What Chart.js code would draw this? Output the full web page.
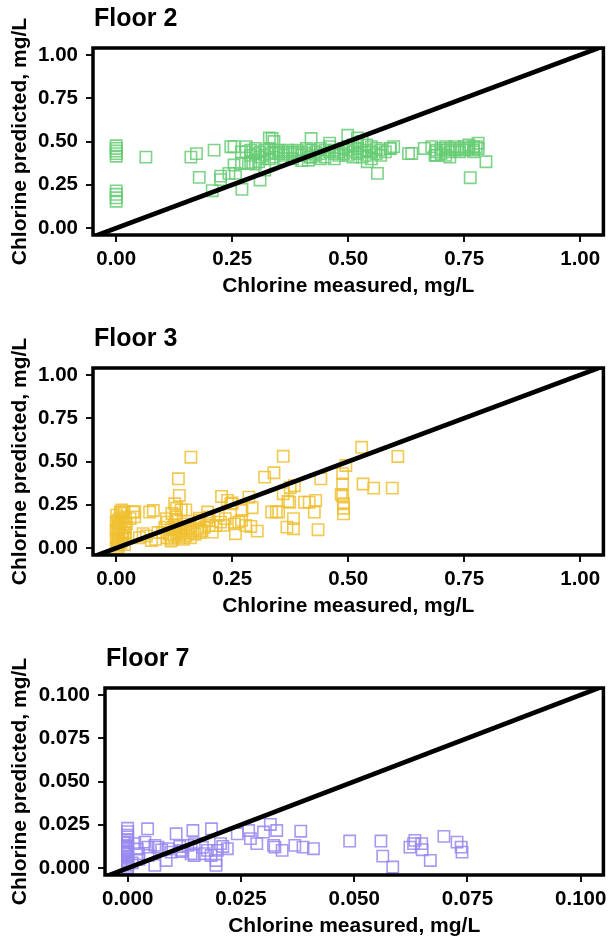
<!DOCTYPE html>
<html>
<head>
<meta charset="utf-8">
<title>Chlorine predicted vs measured</title>
<script src="https://cdn.jsdelivr.net/npm/chart.js@4.4.1/dist/chart.umd.min.js"></script>
<style>
  body { margin: 0; background: #fff; }
  canvas { position: absolute; left: 0; }
</style>
</head>
<body>
<canvas id="floor2" width="613" height="301" style="top:0px"></canvas>
<canvas id="floor3" width="613" height="301" style="top:320px"></canvas>
<canvas id="floor7" width="613" height="301" style="top:640px"></canvas>
<script>
// measured vs predicted chlorine, mg/L
const floor2Measured = [
  0, 0, 0, 0, 0, 0, 0, 0, 0, 0.064,
  0.161, 0.173, 0.211, 0.179, 0.207, 0.225, 0.225, 0.243, 0.247, 0.254,
  0.254, 0.257, 0.271, 0.27, 0.285, 0.31, 0.32, 0.307, 0.336, 0.42,
  0.499, 0.414, 0.418, 0.541, 0.563, 0.591, 0.598, 0.637, 0.664, 0.797,
  0.763, 0.687, 0.719, 0.776, 0.78, 0.28, 0.29, 0.30, 0.30, 0.31,
  0.32, 0.32, 0.33, 0.33, 0.34, 0.34, 0.35, 0.35, 0.36, 0.36,
  0.37, 0.37, 0.38, 0.38, 0.39, 0.39, 0.40, 0.40, 0.41, 0.41,
  0.42, 0.42, 0.43, 0.43, 0.44, 0.44, 0.45, 0.45, 0.46, 0.46,
  0.47, 0.47, 0.48, 0.48, 0.49, 0.49, 0.50, 0.50, 0.50, 0.51,
  0.51, 0.52, 0.52, 0.53, 0.53, 0.53, 0.54, 0.54, 0.54, 0.55,
  0.55, 0.56, 0.56, 0.57, 0.57, 0.58, 0.59, 0.55, 0.52, 0.51,
  0.47, 0.44, 0.40, 0.36, 0.33, 0.31, 0.29, 0.27, 0.28, 0.29,
  0.30, 0.33, 0.34, 0.52, 0.46, 0.68, 0.69, 0.69, 0.70, 0.70,
  0.71, 0.71, 0.72, 0.72, 0.73, 0.73, 0.74, 0.74, 0.75, 0.75,
  0.76, 0.76, 0.77, 0.77, 0.78, 0.71, 0.69, 0.77, 0.63
];
const floor2Predicted = [
  0.475, 0.46, 0.445, 0.43, 0.415, 0.215, 0.195, 0.175, 0.155, 0.41,
  0.41, 0.43, 0.45, 0.293, 0.216, 0.30, 0.28, 0.316, 0.47, 0.47,
  0.364, 0.316, 0.224, 0.373, 0.373, 0.278, 0.335, 0.383, 0.517, 0.517,
  0.536, 0.392, 0.41, 0.383, 0.316, 0.46, 0.47, 0.431, 0.46, 0.383,
  0.291, 0.421, 0.41, 0.47, 0.49, 0.44, 0.45, 0.43, 0.46, 0.44,
  0.42, 0.45, 0.46, 0.43, 0.44, 0.41, 0.45, 0.43, 0.44, 0.42,
  0.45, 0.43, 0.44, 0.40, 0.45, 0.43, 0.44, 0.42, 0.46, 0.43,
  0.45, 0.41, 0.44, 0.42, 0.46, 0.43, 0.45, 0.41, 0.44, 0.47,
  0.43, 0.45, 0.44, 0.42, 0.46, 0.43, 0.45, 0.47, 0.42, 0.44,
  0.48, 0.43, 0.46, 0.44, 0.50, 0.41, 0.45, 0.42, 0.48, 0.44,
  0.40, 0.46, 0.43, 0.45, 0.42, 0.44, 0.46, 0.47, 0.49, 0.41,
  0.40, 0.40, 0.39, 0.40, 0.40, 0.41, 0.42, 0.44, 0.47, 0.38,
  0.37, 0.52, 0.50, 0.52, 0.49, 0.47, 0.45, 0.44, 0.46, 0.43,
  0.45, 0.47, 0.44, 0.46, 0.45, 0.47, 0.46, 0.44, 0.47, 0.45,
  0.46, 0.48, 0.47, 0.45, 0.46, 0.42, 0.42, 0.44, 0.43
];

const floor3Measured = [
  0, 0.002, 0.004, 0.006, 0.003, 0.005, 0.008, 0.01, 0.012, 0.015,
  0.012, 0.018, 0.015, 0.02, 0.01, 0.005, 0.017, 0.02, 0.022, 0.008,
  0, 0, 0, 0.001, 0.012, 0.018, 0.006, 0.014, 0.004, 0.02,
  0.04, 0.04, 0.03, 0.009, 0.037, 0.058, 0.076, 0.072, 0.08, 0.09,
  0.05, 0.065, 0.085, 0.10, 0.105, 0.11, 0.11, 0.115, 0.12, 0.12,
  0.125, 0.125, 0.13, 0.13, 0.135, 0.135, 0.14, 0.14, 0.145, 0.145,
  0.15, 0.15, 0.155, 0.16, 0.16, 0.165, 0.17, 0.118, 0.128, 0.108,
  0.175, 0.18, 0.19, 0.185, 0.2, 0.195, 0.161, 0.134, 0.136, 0.126,
  0.13, 0.14, 0.12, 0.15, 0.179, 0.179, 0.2, 0.197, 0.207, 0.227,
  0.24, 0.247, 0.257, 0.232, 0.264, 0.279, 0.29, 0.304, 0.293, 0.271,
  0.286, 0.225, 0.235, 0.215, 0.25, 0.255, 0.22, 0.27, 0.32, 0.34,
  0.36, 0.36, 0.374, 0.382, 0.368, 0.382, 0.335, 0.35, 0.384, 0.43,
  0.416, 0.427, 0.406, 0.435, 0.441, 0.345, 0.37, 0.375, 0.488, 0.488,
  0.488, 0.49, 0.49, 0.495, 0.485, 0.529, 0.607, 0.532, 0.555, 0.595,
  0.49
];
const floor3Predicted = [
  0, 0.02, 0.05, 0.08, 0.11, 0.14, 0.17, 0.20, 0.22, 0.18,
  0.15, 0.12, 0.09, 0.06, 0.03, 0.01, 0.21, 0.17, 0.14, 0.12,
  0.06, 0.1, 0.15, 0.19, 0.07, 0.02, 0.04, 0.05, 0.16, 0.09,
  0.21, 0.18, 0.17, 0.208, 0.208, 0.083, 0.044, 0.208, 0.217, 0.09,
  0.06, 0.07, 0.05, 0.09, 0.12, 0.06, 0.15, 0.08, 0.05, 0.11,
  0.13, 0.07, 0.09, 0.16, 0.06, 0.12, 0.08, 0.10, 0.05, 0.14,
  0.07, 0.11, 0.09, 0.06, 0.12, 0.10, 0.08, 0.04, 0.18, 0.17,
  0.11, 0.09, 0.12, 0.10, 0.13, 0.16, 0.525, 0.40, 0.304, 0.256,
  0.23, 0.22, 0.20, 0.22, 0.172, 0.16, 0.18, 0.208, 0.092, 0.298,
  0.275, 0.256, 0.083, 0.131, 0.15, 0.131, 0.125, 0.098, 0.233, 0.217,
  0.294, 0.15, 0.17, 0.13, 0.26, 0.14, 0.19, 0.16, 0.41, 0.435,
  0.53, 0.314, 0.265, 0.17, 0.121, 0.112, 0.208, 0.208, 0.36, 0.275,
  0.265, 0.208, 0.265, 0.106, 0.40, 0.21, 0.27, 0.35, 0.43, 0.37,
  0.30, 0.256, 0.198, 0.477, 0.31, 0.582, 0.529, 0.37, 0.346, 0.346,
  0.23
];

const floor7Measured = [
  0, 0, 0, 0, 0, 0, 0, 0, 0, 0,
  0, 0, 0, 0, 0, 0, 0, 0, 0, 0,
  0.0044, 0.0107, 0.0144, 0.0185, 0.0315, 0.0329, 0.030, 0.0382, 0.0242, 0.0267,
  0.0271, 0.0285, 0.0322, 0.0325, 0.0341, 0.0369, 0.0387, 0.041, 0.0038, 0.0045,
  0.006, 0.0067, 0.0089, 0.0096, 0.0118, 0.0133, 0.014, 0.0147, 0.0169, 0.0176,
  0.0198, 0.0205, 0.022, 0.0184, 0.0195, 0.0195, 0.006, 0.0085, 0.0024, 0.0016,
  0.0147, 0.0045, 0.0021, 0.0025, 0.001, 0.0075, 0.0115, 0.021, 0.0165, 0.012,
  0.049, 0.0559, 0.0563, 0.0585, 0.0623, 0.0634, 0.0631, 0.065, 0.0649, 0.0668,
  0.0698, 0.0727, 0.0736, 0.0738
];
const floor7Predicted = [
  0.023, 0.021, 0.019, 0.018, 0.016, 0.015, 0.013, 0.012, 0.011, 0.010,
  0.009, 0.008, 0.007, 0.006, 0.005, 0.004, 0.003, 0.002, 0.001, 0,
  0.0227, 0.0198, 0.0217, 0.0227, 0.0252, 0.0217, 0.0208, 0.0213, 0.0198, 0.0217,
  0.017, 0.0141, 0.0131, 0.0121, 0.0102, 0.0131, 0.0121, 0.0112, 0.015, 0.0121,
  0.0131, 0.0121, 0.0112, 0.0092, 0.0102, 0.0131, 0.0083, 0.0073, 0.0083, 0.0102,
  0.0102, 0.0141, 0.0112, 0.0073, 0.0016, 0.0044, 0.0016, 0.0044, 0.0083, 0.0141,
  0.0141, 0.0073, 0.011, 0.005, 0.003, 0.0105, 0.0125, 0.0125, 0.012, 0.0095,
  0.0156, 0.0156, 0.0069, 0.0006, 0.0121, 0.016, 0.0141, 0.0106, 0.0141, 0.0044,
  0.0183, 0.015, 0.0121, 0.0092
];

// tick positions / labels
const ticksWide = [0, 0.25, 0.5, 0.75, 1];
const labelsWide = ['0.00', '0.25', '0.50', '0.75', '1.00'];
const ticksLow = [0, 0.025, 0.05, 0.075, 0.1];
const labelsLow = ['0.000', '0.025', '0.050', '0.075', '0.100'];

// axis limits [min, max]
const xLimWide = [-0.05, 1.05];
const yLimWide = [-0.04, 1.04];
const xLimLow = [-0.005, 0.105];
const yLimLow = [-0.004, 0.104];

Chart.defaults.font.family = "'Liberation Sans', Arial, sans-serif";
Chart.defaults.font.size = 20;
Chart.defaults.font.weight = 'bold';
Chart.defaults.color = '#000';

// panel heading + frame around the plot area
const panelDecor = {
  id: 'panelDecor',
  afterDraw(chart, args, opts) {
    const { ctx, chartArea: a } = chart;
    ctx.save();
    ctx.strokeStyle = '#000';
    ctx.lineWidth = 3.5;
    ctx.strokeRect(a.left, a.top, a.right - a.left, a.bottom - a.top);
    ctx.font = "bold 25px 'Liberation Sans', Arial, sans-serif";
    ctx.fillStyle = '#000';
    ctx.textBaseline = 'alphabetic';
    ctx.fillText(opts.text, a.left + 1, 26);
    ctx.restore();
  }
};

function makePanel(id, title, measured, predicted, color, xLim, yLim, ticks, labels, yWidth) {
  const points = measured.map((x, i) => ({ x: x, y: predicted[i] }));
  const lo = Math.min(xLim[0], yLim[0]);
  const hi = Math.max(xLim[1], yLim[1]);

  const axis = (lim, label, isX) => ({
    type: 'linear',
    min: lim[0],
    max: lim[1],
    afterBuildTicks: s => { s.ticks = ticks.map(v => ({ value: v })); },
    afterFit: s => {
      if (isX) { s.height = 66; s.paddingLeft = 0; s.paddingRight = 0; }
      else { s.width = yWidth; s.paddingTop = 0; s.paddingBottom = 0; }
    },
    ticks: {
      autoSkip: false,
      maxRotation: 0,
      padding: isX ? 5 : 8,
      font: { size: 20.5, weight: 'bold' },
      callback: (v, i) => labels[i]
    },
    grid: { drawOnChartArea: false, color: '#111', lineWidth: 2, tickLength: 7 },
    border: { display: false },
    title: {
      display: true,
      text: label,
      font: { size: 21, weight: 'bold' },
      padding: isX ? { top: 0, bottom: 2 } : { top: 8, bottom: 0 }
    }
  });

  new Chart(document.getElementById(id), {
    type: 'scatter',
    data: {
      datasets: [
        {
          type: 'line',
          data: [{ x: lo, y: lo }, { x: hi, y: hi }],
          borderColor: '#000',
          borderWidth: 4.8,
          pointRadius: 0
        },
        {
          data: points,
          pointStyle: 'rect',
          pointRadius: 8,
          borderWidth: 1.6,
          borderColor: color,
          backgroundColor: 'rgba(0,0,0,0)'
        }
      ]
    },
    options: {
      responsive: false,
      animation: false,
      events: [],
      layout: { padding: { top: 48, right: 4, left: 0, bottom: 0 } },
      plugins: {
        legend: { display: false },
        tooltip: { enabled: false },
        panelDecor: { text: title }
      },
      scales: {
        x: axis(xLim, 'Chlorine measured, mg/L', true),
        y: axis(yLim, 'Chlorine predicted, mg/L', false)
      }
    },
    plugins: [panelDecor]
  });
}

makePanel('floor2', 'Floor 2', floor2Measured, floor2Predicted, 'rgba(102,204,116,0.85)',
  xLimWide, yLimWide, ticksWide, labelsWide, 93);
makePanel('floor3', 'Floor 3', floor3Measured, floor3Predicted, 'rgba(240,192,48,0.85)',
  xLimWide, yLimWide, ticksWide, labelsWide, 93);
makePanel('floor7', 'Floor 7', floor7Measured, floor7Predicted, 'rgba(150,135,240,0.85)',
  xLimLow, yLimLow, ticksLow, labelsLow, 105);
</script>
</body>
</html>
